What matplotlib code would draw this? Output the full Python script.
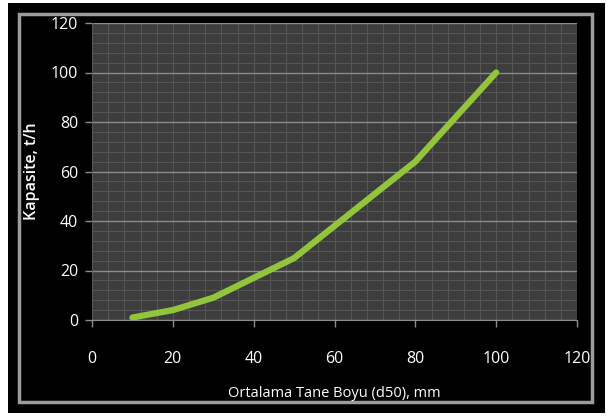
import matplotlib
matplotlib.use("Agg")
import matplotlib.pyplot as plt
from matplotlib.patches import Rectangle
from matplotlib.ticker import MultipleLocator

# Ortalama tane boyu (mm) ve kapasite (t/h)
tane_boyu = [10, 20, 30, 50, 80, 100]
kapasite = [1, 4, 9, 25, 64, 100]

x_ticks = [0, 20, 40, 60, 80, 100, 120]
y_ticks = [0, 20, 40, 60, 80, 100, 120]

W, H = 609, 417
fig = plt.figure(figsize=(W / 100, H / 100), dpi=100, facecolor="white")

def px(x0, y0, x1, y1):
    # piksel koordinatlarini (ustten) figur koordinatlarina cevir
    return x0 / W, 1 - y1 / H, (x1 - x0) / W, (y1 - y0) / H

# siyah cerceve ve icteki gri cizgi
x, y, w, h = px(8, 3, 605, 413)
fig.patches.append(Rectangle((x, y), w, h, transform=fig.transFigure,
                             facecolor="black", edgecolor="none", zorder=-2))
x, y, w, h = px(19, 14, 592, 402)
fig.patches.append(Rectangle((x, y), w, h, transform=fig.transFigure,
                             facecolor="none", edgecolor="#9c9c9c", lw=2.5, zorder=-1))

ax = fig.add_axes(px(92, 23, 577, 320))
ax.set_facecolor("#3d3d3d")

ax.plot(tane_boyu, kapasite, color="#92c43c", lw=4.5, solid_capstyle="round",
        solid_joinstyle="round", zorder=3)

ax.set_xlim(0, 120)
ax.set_ylim(0, 120)
ax.set_xticks(x_ticks)
ax.set_yticks(y_ticks)
ax.xaxis.set_minor_locator(MultipleLocator(4))
ax.yaxis.set_minor_locator(MultipleLocator(4))

ax.grid(which="minor", color="#555555", lw=0.8)
ax.grid(which="major", axis="y", color="#8c8c8c", lw=1.0)
ax.grid(which="major", axis="x", color="#555555", lw=0.8)
ax.set_axisbelow(True)

for s in ["top", "right"]:
    ax.spines[s].set_visible(False)
ax.spines["left"].set_color("#555555")
ax.spines["bottom"].set_color("#8c8c8c")

font = ["Open Sans", "DejaVu Sans"]
ax.tick_params(which="major", colors="#8c8c8c", length=5, width=1)
ax.tick_params(which="minor", length=0)
ax.tick_params(axis="x", pad=17, labelcolor="white", labelsize=11.5)
ax.tick_params(axis="y", pad=5, labelcolor="white", labelsize=11.5)
for lab in ax.get_xticklabels() + ax.get_yticklabels():
    lab.set_family(font)

ax.set_xlabel("Ortalama Tane Boyu (d50), mm", color="white", fontsize=10.5,
              family=font, labelpad=14)
ax.set_ylabel("Kapasite, t/h", color="white", fontsize=11.5, family=font,
              fontweight="semibold", labelpad=8)

fig.savefig("out.png", dpi=100, facecolor="white")
